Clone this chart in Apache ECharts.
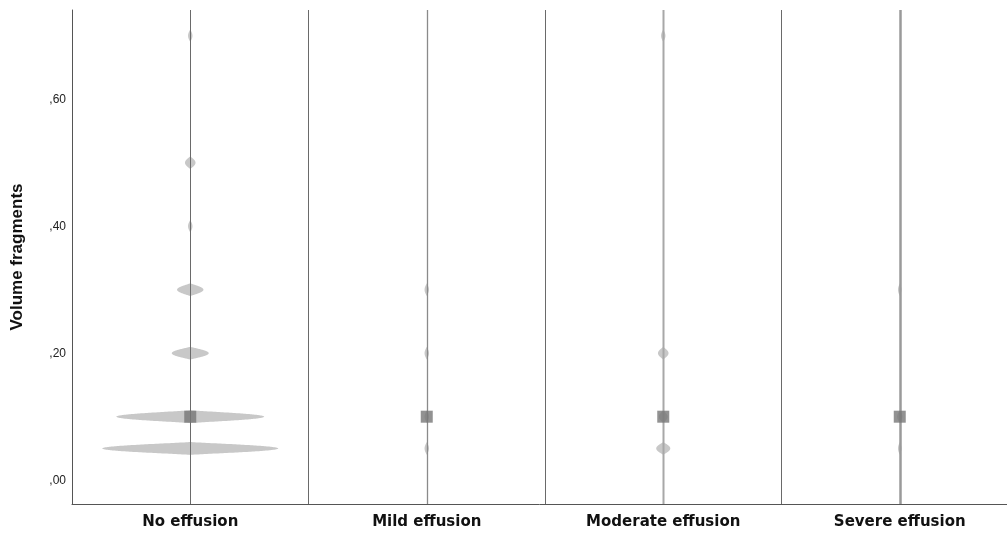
<!DOCTYPE html>
<html><head><meta charset="utf-8">
<script src="https://cdn.jsdelivr.net/npm/echarts@6/dist/echarts.min.js"></script>
<style>html,body{margin:0;padding:0;background:#fff}#c{width:1007px;height:538px}</style>
</head><body><div id="c"></div>
<script>
// ---- data ----
const categories = ['No effusion', 'Mild effusion', 'Moderate effusion', 'Severe effusion'];
const noEffusionValues = [0.05, 0.10, 0.20, 0.30, 0.40, 0.50, 0.70];
const noEffusionDensity = [1.0, 0.84, 0.21, 0.15, 0.025, 0.06, 0.025];
const mildValues = [0.05, 0.10, 0.20, 0.30];
const mildDensity = [0.025, 0.025, 0.025, 0.025];
const moderateValues = [0.05, 0.10, 0.20, 0.70];
const moderateDensity = [0.08, 0.05, 0.06, 0.025];
const severeValues = [0.05, 0.10, 0.30];
const severeDensity = [0.02, 0.03, 0.02];
const medians = [0.10, 0.10, 0.10, 0.10];
const yTickValues = [0, 0.2, 0.4, 0.6];

// ---- presentation ----
const violinValues = [noEffusionValues, mildValues, moderateValues, severeValues];
const violinDensity = [noEffusionDensity, mildDensity, moderateDensity, severeDensity];
const KERNEL_HALF = 0.0102;        // kernel half-height in data units
const KERNEL_POW = 1.3;
const MAX_HALF_WIDTH = 0.372;      // fraction of category band for density 1
const X_MAX = 3.4535;              // right edge of the plot is cut by the frame
const centerLineStyles = [
  {stroke: '#6a6a6a', lineWidth: 1},
  {stroke: '#8a8a8a', lineWidth: 1.3},
  {stroke: '#a8a8a8', lineWidth: 2},
  {stroke: '#9a9a9a', lineWidth: 2.5}
];

function violinItem(params, api) {
  const ci = api.value(0);
  const cx = api.coord([ci, 0])[0];
  const band = api.size([1, 0])[0];
  const h = api.size([0, KERNEL_HALF])[1];
  const vals = violinValues[ci], dens = violinDensity[ci];
  const children = [];
  const N = 60;
  for (let i = 0; i < vals.length; i++) {
    const yc = api.coord([ci, vals[i]])[1];
    const hw = dens[i] * band * MAX_HALF_WIDTH;
    const right = [], left = [];
    for (let k = -N; k <= N; k++) {
      const u = k / N;
      const w = hw * Math.pow(Math.max(1 - u * u, 0), KERNEL_POW);
      right.push([cx + w, yc + u * h]);
      left.unshift([cx - w, yc + u * h]);
    }
    children.push({
      type: 'polygon',
      shape: {points: right.concat(left)},
      style: {fill: '#c8c8c8', stroke: null}
    });
  }
  return {type: 'group', children: children};
}

function lineItem(params, api) {
  const ci = api.value(0);
  const cs = params.coordSys;
  const cx = Math.round(api.coord([ci, 0])[0]) + 0.5;
  const sx = Math.round(api.coord([ci + 0.5, 0])[0]) + 0.5;
  const children = [{
    type: 'line',
    shape: {x1: cx, y1: cs.y, x2: cx, y2: cs.y + cs.height},
    style: centerLineStyles[ci]
  }];
  if (sx < cs.x + cs.width) {
    children.push({
      type: 'line',
      shape: {x1: sx, y1: cs.y, x2: sx, y2: cs.y + cs.height},
      style: {stroke: '#6a6a6a', lineWidth: 1}
    });
  }
  return {type: 'group', children: children};
}

const catData = categories.map((c, i) => [i, medians[i]]);

const chart = echarts.init(document.getElementById('c'), null, {renderer: 'canvas'});
chart.setOption({
  animation: false,
  backgroundColor: '#ffffff',
  grid: {left: 72, right: 0, top: 10, bottom: 34, containLabel: false},
  xAxis: {
    type: 'value',
    min: -0.5, max: X_MAX,
    axisLine: {show: true, onZero: false, lineStyle: {color: '#555', width: 1}},
    axisTick: {show: false},
    splitLine: {show: false},
    axisLabel: {
      customValues: categories.map((c, i) => i),
      formatter: v => categories[Math.round(v)] || '',
      margin: 11, color: '#111',
      fontFamily: 'DejaVu Sans', fontWeight: 'bold', fontSize: 15
    }
  },
  yAxis: {
    type: 'value',
    min: -0.0375, max: 0.7405,
    name: 'Volume fragments',
    nameLocation: 'middle',
    nameRotate: 90,
    nameGap: 46,
    nameTextStyle: {fontFamily: 'Liberation Sans', fontSize: 17, fontWeight: 'bold', color: '#111'},
    axisLine: {show: true, onZero: false, lineStyle: {color: '#555', width: 1}},
    axisTick: {show: false},
    splitLine: {show: false},
    axisLabel: {
      customValues: yTickValues,
      margin: 6,
      color: '#222',
      fontFamily: 'Liberation Sans', fontSize: 12,
      formatter: v => v.toFixed(2).replace(/^0\./, ',')
    }
  },
  series: [
    {type: 'custom', renderItem: violinItem, data: catData, z: 2, silent: true},
    {type: 'custom', renderItem: lineItem, data: catData, z: 3, silent: true},
    {type: 'scatter', data: catData, symbol: 'rect', symbolSize: 12,
     itemStyle: {color: '#777777'}, z: 4, silent: true}
  ]
});
</script>
</body></html>
